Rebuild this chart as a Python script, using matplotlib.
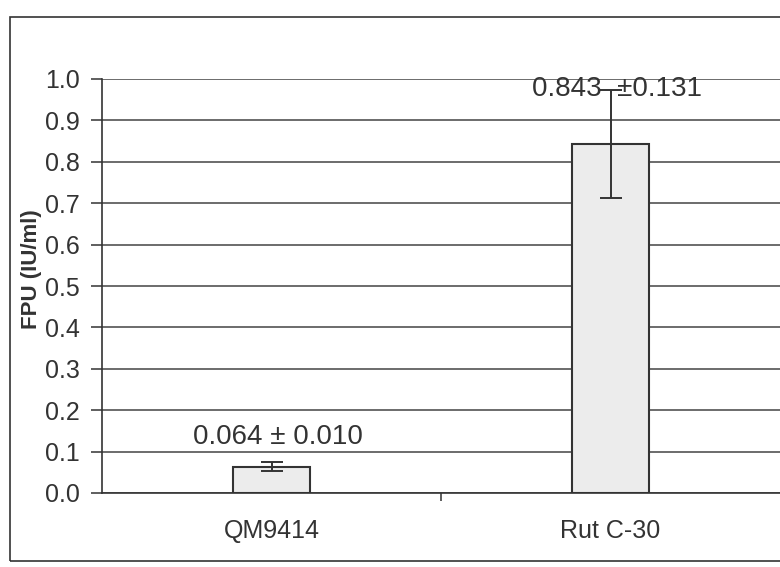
import matplotlib
matplotlib.use("Agg")
import matplotlib.pyplot as plt
from matplotlib.patches import Rectangle

categories = ["QM9414", "Rut C-30"]
values = [0.064, 0.843]
errors = [0.010, 0.131]
labels = ["0.064 \u00b1 0.010", "0.843  \u00b10.131"]
yticks = [0.0, 0.1, 0.2, 0.3, 0.4, 0.5, 0.6, 0.7, 0.8, 0.9, 1.0]

plt.rcParams['font.family'] = ['Liberation Sans', 'DejaVu Sans']

fig = plt.figure(figsize=(7.8, 5.67), dpi=100)
fig.patch.set_facecolor('white')

# outer chart frame
fig.add_artist(Rectangle((10/780, 1 - 561/567), 1.2, (561 - 17)/567,
                         transform=fig.transFigure, fill=False,
                         edgecolor='#333333', linewidth=1.2))

ax = fig.add_axes([102/780, 1 - 493/567, 1 - 102/780, (493 - 79)/567])
x = [0, 1]
ax.bar(x, values, width=0.23, color='#ececec', edgecolor='#333333',
       linewidth=1.5, zorder=3)
ax.errorbar(x, values, yerr=errors, fmt='none', ecolor='#333333',
            elinewidth=1.4, capsize=8, capthick=1.4, zorder=4)

for xi, lab, ly in zip(x, labels, [0.135, 0.975]):
    ax.text(xi + 0.02, ly, lab, ha='center', va='center', fontsize=20,
            color='#333333', zorder=5)

ax.set_xlim(-0.5, 1.5)
ax.set_ylim(0, 1.0)
ax.set_yticks(yticks)
ax.set_yticklabels([f"{t:.1f}" for t in yticks], fontsize=18, color='#333333')
ax.set_xticks(x)
ax.set_xticklabels(categories, fontsize=18, color='#333333')
ax.tick_params(axis='x', length=0, pad=19)
ax.tick_params(axis='y', length=8, width=1.1, color='#333333', pad=8)
ax.set_xticks([0.5], minor=True)
ax.tick_params(axis='x', which='minor', length=6, width=1.1, color='#333333')

ax.yaxis.grid(True, color='#444444', linewidth=1.1, zorder=0)
ax.set_axisbelow(True)
for s in ['top', 'right']:
    ax.spines[s].set_visible(False)
ax.spines['left'].set_color('#333333')
ax.spines['left'].set_linewidth(1.2)
ax.spines['bottom'].set_color('#333333')
ax.spines['bottom'].set_linewidth(1.2)

ax.set_ylabel("FPU (IU/ml)", fontsize=16, fontweight='bold', color='#333333')
ax.yaxis.set_label_coords(-0.088, 0.54)

fig.savefig("out.png", dpi=100, facecolor='white')
